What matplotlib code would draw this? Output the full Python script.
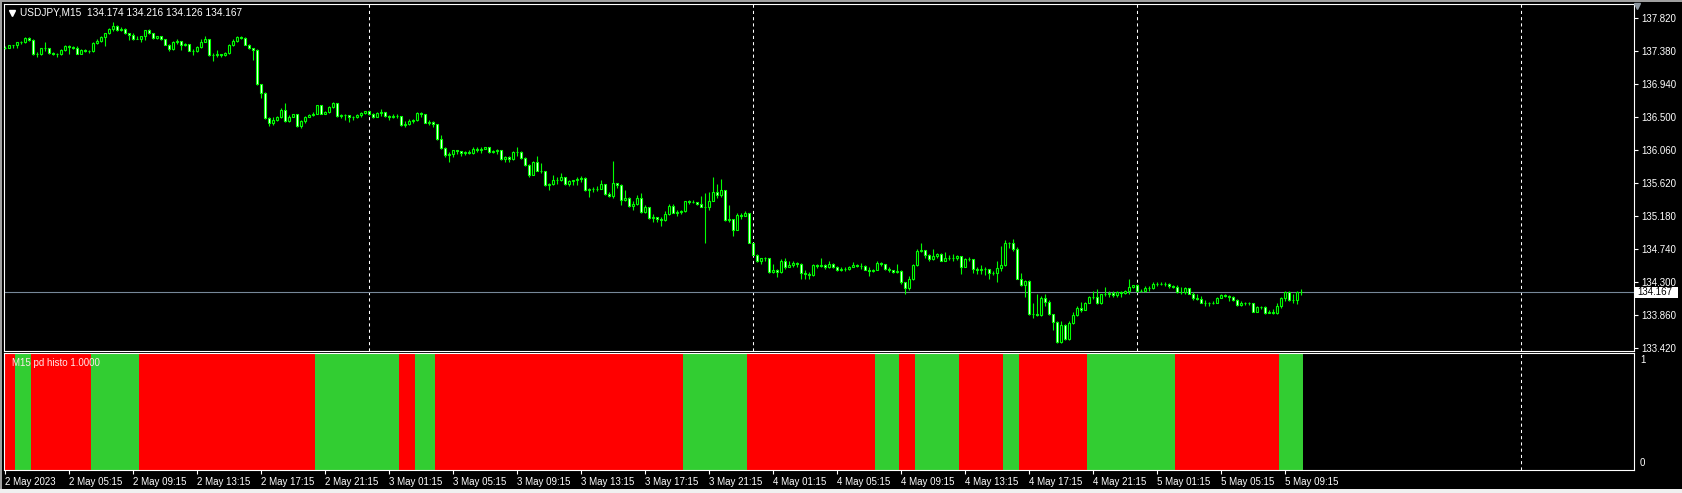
import matplotlib.pyplot as plt
import numpy as np
from matplotlib.patches import Rectangle

plt.rcParams['font.family'] = ['Liberation Sans', 'DejaVu Sans']

# USDJPY M15, 2 May 2023 01:15 .. 5 May 2023 10:15
first_open = 137.43
close = [
    137.43, 137.46, 137.46, 137.50, 137.50, 137.56, 137.53, 137.34, 137.34, 137.42,
    137.42, 137.36, 137.34, 137.34, 137.40, 137.45, 137.44, 137.43, 137.35, 137.40,
    137.38, 137.38, 137.49, 137.52, 137.57, 137.62, 137.68, 137.72, 137.66, 137.68,
    137.62, 137.60, 137.54, 137.55, 137.58, 137.66, 137.62, 137.56, 137.58, 137.54,
    137.47, 137.41, 137.51, 137.52, 137.46, 137.48, 137.39, 137.38, 137.44, 137.51,
    137.54, 137.33, 137.33, 137.34, 137.33, 137.36, 137.47, 137.52, 137.57, 137.56,
    137.47, 137.42, 137.40, 136.94, 136.83, 136.49, 136.42, 136.47, 136.50, 136.60,
    136.45, 136.51, 136.54, 136.38, 136.45, 136.50, 136.53, 136.55, 136.66, 136.55,
    136.57, 136.64, 136.69, 136.52, 136.53, 136.53, 136.50, 136.50, 136.53, 136.56,
    136.58, 136.55, 136.51, 136.56, 136.57, 136.52, 136.50, 136.52, 136.52, 136.40,
    136.41, 136.45, 136.47, 136.56, 136.55, 136.43, 136.44, 136.41, 136.21, 136.09,
    136.00, 136.01, 136.06, 136.05, 136.03, 136.04, 136.03, 136.08, 136.06, 136.08,
    136.10, 136.04, 136.05, 136.06, 135.94, 135.97, 135.95, 136.04, 136.04, 135.96,
    135.87, 135.73, 135.91, 135.79, 135.79, 135.60, 135.61, 135.66, 135.67, 135.70,
    135.61, 135.65, 135.66, 135.68, 135.69, 135.53, 135.54, 135.55, 135.54, 135.61,
    135.48, 135.45, 135.63, 135.60, 135.40, 135.43, 135.32, 135.34, 135.43, 135.24,
    135.30, 135.16, 135.17, 135.15, 135.13, 135.21, 135.32, 135.23, 135.24, 135.25,
    135.38, 135.37, 135.37, 135.34, 135.31, 135.31, 135.38, 135.51, 135.47, 135.53,
    135.13, 135.14, 135.00, 135.20, 135.19, 135.22, 134.83, 134.67, 134.58, 134.62,
    134.63, 134.44, 134.47, 134.44, 134.59, 134.50, 134.53, 134.56, 134.55, 134.42,
    134.41, 134.40, 134.53, 134.52, 134.53, 134.51, 134.55, 134.51, 134.47, 134.48,
    134.48, 134.51, 134.53, 134.52, 134.52, 134.47, 134.45, 134.46, 134.56, 134.54,
    134.48, 134.46, 134.44, 134.45, 134.30, 134.22, 134.35, 134.53, 134.72, 134.73,
    134.67, 134.61, 134.65, 134.68, 134.59, 134.63, 134.63, 134.63, 134.65, 134.51,
    134.61, 134.61, 134.48, 134.46, 134.48, 134.48, 134.42, 134.43, 134.49, 134.53,
    134.82, 134.82, 134.75, 134.35, 134.27, 134.32, 133.88, 133.88, 133.87, 134.09,
    134.04, 133.88, 133.77, 133.50, 133.73, 133.54, 133.76, 133.86, 133.96, 133.93,
    134.03, 134.10, 134.11, 134.02, 134.14, 134.15, 134.16, 134.13, 134.17, 134.16,
    134.18, 134.24, 134.26, 134.18, 134.19, 134.22, 134.22, 134.28, 134.28, 134.28,
    134.28, 134.25, 134.24, 134.17, 134.17, 134.22, 134.15, 134.09, 134.08, 134.03,
    134.03, 134.02, 134.03, 134.09, 134.13, 134.12, 134.11, 134.06, 134.00, 134.02,
    134.02, 134.02, 133.91, 133.97, 133.97, 133.89, 133.90, 133.89, 133.99, 134.09,
    134.17, 134.06, 134.07, 134.174, 134.167,
]
high = [
    137.45, 137.47, 137.47, 137.51, 137.52, 137.57, 137.57, 137.54, 137.37, 137.43,
    137.51, 137.43, 137.37, 137.36, 137.41, 137.46, 137.46, 137.45, 137.45, 137.41,
    137.41, 137.40, 137.50, 137.54, 137.58, 137.63, 137.69, 137.77, 137.73, 137.70,
    137.69, 137.63, 137.62, 137.59, 137.59, 137.67, 137.68, 137.63, 137.59, 137.59,
    137.55, 137.48, 137.52, 137.55, 137.51, 137.49, 137.48, 137.41, 137.45, 137.54,
    137.58, 137.55, 137.36, 137.40, 137.35, 137.37, 137.48, 137.55, 137.58, 137.59,
    137.57, 137.48, 137.43, 137.41, 136.95, 136.84, 136.50, 136.51, 136.52, 136.62,
    136.69, 136.53, 136.55, 136.55, 136.46, 136.52, 136.55, 136.57, 136.67, 136.67,
    136.58, 136.65, 136.70, 136.69, 136.54, 136.54, 136.53, 136.52, 136.55, 136.57,
    136.59, 136.57, 136.56, 136.57, 136.61, 136.56, 136.53, 136.54, 136.55, 136.51,
    136.45, 136.48, 136.48, 136.57, 136.57, 136.53, 136.46, 136.45, 136.40, 136.26,
    136.11, 136.04, 136.07, 136.06, 136.05, 136.05, 136.07, 136.10, 136.10, 136.10,
    136.11, 136.10, 136.06, 136.08, 136.02, 135.98, 135.98, 136.05, 136.10, 136.05,
    135.97, 135.88, 135.92, 135.99, 135.89, 135.79, 135.62, 135.73, 135.71, 135.76,
    135.71, 135.66, 135.67, 135.70, 135.72, 135.70, 135.56, 135.57, 135.59, 135.66,
    135.61, 135.51, 135.92, 135.63, 135.61, 135.53, 135.44, 135.39, 135.46, 135.49,
    135.33, 135.31, 135.21, 135.17, 135.17, 135.25, 135.34, 135.34, 135.26, 135.27,
    135.39, 135.40, 135.40, 135.37, 135.45, 135.49, 135.50, 135.70, 135.61, 135.68,
    135.53, 135.33, 135.14, 135.22, 135.22, 135.25, 135.22, 134.80, 134.68, 134.63,
    134.64, 134.63, 134.55, 134.48, 134.61, 134.62, 134.58, 134.58, 134.57, 134.56,
    134.46, 134.44, 134.54, 134.55, 134.62, 134.55, 134.58, 134.56, 134.52, 134.50,
    134.50, 134.52, 134.57, 134.54, 134.56, 134.53, 134.51, 134.48, 134.59, 134.57,
    134.55, 134.50, 134.47, 134.55, 134.46, 134.31, 134.39, 134.55, 134.74, 134.82,
    134.73, 134.68, 134.74, 134.69, 134.69, 134.71, 134.67, 134.68, 134.67, 134.65,
    134.63, 134.64, 134.61, 134.50, 134.53, 134.50, 134.47, 134.45, 134.59, 134.78,
    134.86, 134.84, 134.88, 134.77, 134.43, 134.33, 134.33, 134.02, 134.14, 134.12,
    134.14, 134.06, 133.88, 133.78, 133.79, 133.74, 133.78, 133.91, 133.99, 134.04,
    134.04, 134.12, 134.19, 134.21, 134.15, 134.24, 134.18, 134.18, 134.19, 134.18,
    134.20, 134.34, 134.27, 134.28, 134.21, 134.25, 134.25, 134.31, 134.31, 134.30,
    134.31, 134.29, 134.27, 134.26, 134.24, 134.24, 134.23, 134.17, 134.15, 134.12,
    134.06, 134.04, 134.05, 134.10, 134.14, 134.14, 134.13, 134.12, 134.08, 134.05,
    134.04, 134.04, 134.03, 133.98, 133.99, 133.98, 133.93, 133.95, 134.02, 134.11,
    134.18, 134.18, 134.14, 134.18, 134.216,
]
low = [
    137.41, 137.42, 137.43, 137.42, 137.48, 137.49, 137.52, 137.33, 137.30, 137.33,
    137.38, 137.35, 137.33, 137.31, 137.33, 137.39, 137.35, 137.41, 137.34, 137.34,
    137.37, 137.36, 137.37, 137.48, 137.51, 137.45, 137.61, 137.65, 137.65, 137.65,
    137.61, 137.53, 137.53, 137.54, 137.50, 137.53, 137.61, 137.55, 137.55, 137.53,
    137.46, 137.38, 137.40, 137.48, 137.40, 137.45, 137.38, 137.33, 137.37, 137.43,
    137.50, 137.32, 137.25, 137.30, 137.31, 137.32, 137.35, 137.45, 137.51, 137.54,
    137.46, 137.41, 137.26, 136.93, 136.76, 136.48, 136.38, 136.40, 136.45, 136.49,
    136.44, 136.44, 136.50, 136.37, 136.36, 136.43, 136.50, 136.52, 136.54, 136.54,
    136.54, 136.56, 136.63, 136.51, 136.49, 136.46, 136.44, 136.47, 136.49, 136.51,
    136.55, 136.53, 136.49, 136.50, 136.52, 136.50, 136.47, 136.49, 136.49, 136.39,
    136.37, 136.40, 136.43, 136.45, 136.50, 136.42, 136.40, 136.37, 136.20, 136.08,
    135.97, 135.91, 135.97, 136.01, 135.99, 136.00, 136.01, 136.01, 136.04, 136.03,
    136.08, 136.03, 136.02, 136.01, 135.93, 135.90, 135.91, 135.93, 135.99, 135.95,
    135.85, 135.71, 135.73, 135.78, 135.76, 135.59, 135.53, 135.60, 135.61, 135.65,
    135.60, 135.59, 135.60, 135.60, 135.64, 135.52, 135.44, 135.51, 135.52, 135.54,
    135.47, 135.44, 135.42, 135.56, 135.33, 135.38, 135.31, 135.27, 135.33, 135.22,
    135.23, 135.15, 135.11, 135.10, 135.05, 135.12, 135.20, 135.22, 135.19, 135.21,
    135.24, 135.34, 135.36, 135.33, 135.30, 134.83, 135.27, 135.38, 135.43, 135.44,
    135.12, 135.11, 134.92, 135.00, 135.14, 135.18, 134.82, 134.66, 134.57, 134.55,
    134.58, 134.43, 134.42, 134.37, 134.42, 134.48, 134.50, 134.51, 134.50, 134.35,
    134.34, 134.34, 134.39, 134.49, 134.50, 134.48, 134.49, 134.49, 134.45, 134.45,
    134.45, 134.46, 134.51, 134.50, 134.48, 134.46, 134.39, 134.44, 134.46, 134.52,
    134.47, 134.44, 134.42, 134.43, 134.28, 134.15, 134.20, 134.33, 134.52, 134.70,
    134.62, 134.59, 134.60, 134.63, 134.58, 134.58, 134.60, 134.58, 134.60, 134.41,
    134.50, 134.59, 134.43, 134.41, 134.41, 134.40, 134.35, 134.40, 134.31, 134.45,
    134.52, 134.76, 134.72, 134.34, 134.25, 134.10, 133.86, 133.82, 133.85, 133.85,
    133.99, 133.87, 133.66, 133.49, 133.49, 133.53, 133.53, 133.74, 133.85, 133.90,
    133.93, 134.02, 134.08, 134.01, 134.01, 134.12, 134.10, 134.10, 134.10, 134.11,
    134.15, 134.15, 134.22, 134.17, 134.17, 134.17, 134.19, 134.21, 134.25, 134.26,
    134.25, 134.23, 134.22, 134.16, 134.15, 134.15, 134.14, 134.07, 134.07, 134.02,
    133.99, 133.98, 134.01, 134.03, 134.09, 134.10, 134.05, 134.05, 133.99, 133.99,
    134.00, 134.00, 133.90, 133.90, 133.94, 133.88, 133.89, 133.88, 133.88, 133.96,
    134.05, 134.05, 134.03, 134.01, 134.126,
]

# pd histo: 1 = up (green), 0 = down (red), run lengths in bars
histo_state = [0, 1, 0, 1, 0, 1, 0, 1, 0, 1, 0, 1, 0, 1, 0, 1, 0, 1, 0, 1]
histo_len = [3, 4, 15, 12, 44, 21, 4, 5, 62, 16, 32, 6, 4, 11, 11, 4, 17, 22, 26, 6]

price_ticks = [137.820, 137.380, 136.940, 136.500, 136.060, 135.620,
               135.180, 134.740, 134.300, 133.860, 133.420]
last_price = 134.167
day_sep = [91, 187, 283, 379]          # bar index of 3/4/5/6 May 00:00
time_tick_idx = list(range(0, 321, 16))
time_labels = ['2 May 2023', '2 May 05:15', '2 May 09:15', '2 May 13:15', '2 May 17:15',
               '2 May 21:15', '3 May 01:15', '3 May 05:15', '3 May 09:15', '3 May 13:15',
               '3 May 17:15', '3 May 21:15', '4 May 01:15', '4 May 05:15', '4 May 09:15',
               '4 May 13:15', '4 May 17:15', '4 May 21:15', '5 May 01:15', '5 May 05:15',
               '5 May 09:15']
title = 'USDJPY,M15  134.174 134.216 134.126 134.167'

W, H = 1682, 493
GREEN = '#00ff00'
fig = plt.figure(figsize=(W / 100, H / 100), dpi=100, facecolor='black')

def px_axes(l, t, r, b):
    return fig.add_axes([l / W, (H - b) / H, (r - l) / W, (b - t) / H])

def fig_rect(l, t, r, b, color):
    fig.patches.append(Rectangle((l / W, (H - b) / H), (r - l) / W, (b - t) / H,
                                 transform=fig.transFigure, facecolor=color,
                                 edgecolor='none', zorder=10))

ax = px_axes(4, 4, 1634, 351)
ax2 = px_axes(4, 353, 1634, 470)

c = np.array(close)
o = np.concatenate([[first_open], c[:-1]])
h = np.maximum(np.array(high), np.maximum(o, c))
lo = np.minimum(np.array(low), np.minimum(o, c))
idx = np.arange(len(c))
xmin, xmax = -0.25, 407.25

for a in (ax, ax2):
    a.set_facecolor('black')
    a.set_xlim(xmin, xmax)
    for s in a.spines.values():
        s.set_color('white')
        s.set_linewidth(0.8)

# main chart
for d in day_sep:
    ax.axvline(d, color='white', lw=0.75, ls=(0, (3, 3)), zorder=1)
ax.axhline(last_price, color='#778899', lw=0.8, zorder=1)
ax.vlines(idx, lo, h, color=GREEN, lw=0.8, zorder=2)
face = np.where(c < o, 'white', 'black')
ax.bar(idx, c - o, bottom=o, width=0.5, color=face, edgecolor=GREEN,
       linewidth=0.8, zorder=3)
ax.set_ylim(133.384, 138.011)
ax.yaxis.tick_right()
ax.set_yticks(price_ticks)
ax.set_yticklabels([f'{p:.3f}' for p in price_ticks])
ax.tick_params(axis='y', colors='white', labelsize=7, length=3, width=0.8, pad=2)
ax.set_xticks([])

# last price tag
fig_rect(1635, 287, 1678, 297.5, 'white')
fig.text(1637.5 / W, 1 - 292.3 / H, f'{last_price:.3f}', fontsize=7, color='black',
         va='center', ha='left', zorder=11)

ax.plot([(12 - 4) / 1630], [(351 - 12.5) / 347], marker='v', color='white',
        markersize=4.5, transform=ax.transAxes, clip_on=False)
fig.text(20 / W, 1 - 12.7 / H, title, color='white', fontsize=7.3, va='center', ha='left')
ax.plot([1 + 3 / 1630], [1 - 1.5 / 347], marker='v', color='#8c96a0',
        markersize=5, transform=ax.transAxes, clip_on=False, zorder=5)

# indicator window
for d in day_sep:
    ax2.axvline(d, color='white', lw=0.75, ls=(0, (3, 3)), zorder=1)
lens = np.array(histo_len)
starts = np.concatenate([[0], np.cumsum(lens)[:-1]])
cols = ['#32cd32' if s == 1 else '#ff0000' for s in histo_state]
ax2.bar(starts - 0.5, 1, width=lens, align='edge', color=cols, linewidth=0, zorder=2)
ax2.set_ylim(0, 1)
ax2.set_yticks([])
fig.text(1640 / W, 1 - 360 / H, '1', color='white', fontsize=7, va='center', ha='left')
fig.text(1640 / W, 1 - 463 / H, '0', color='white', fontsize=7, va='center', ha='left')
ax2.set_xticks(time_tick_idx)
ax2.set_xticklabels(time_labels, ha='left')
ax2.tick_params(axis='x', colors='white', labelsize=7, length=3, width=0.8, pad=2)
ax2.text(8 / 1630, 1 - 10 / 117, 'M15 pd histo 1.0000', transform=ax2.transAxes,
         color='#ffe8e8', fontsize=7, va='center', ha='left', zorder=4)

# window frame
fig_rect(0, 0, W, 1.5, '#a0a0a0')
fig_rect(0, 0, 1.5, H, '#a0a0a0')
fig_rect(0, 489, W, H, '#f0f0f0')

fig.savefig('out.png', dpi=100, facecolor='black')
